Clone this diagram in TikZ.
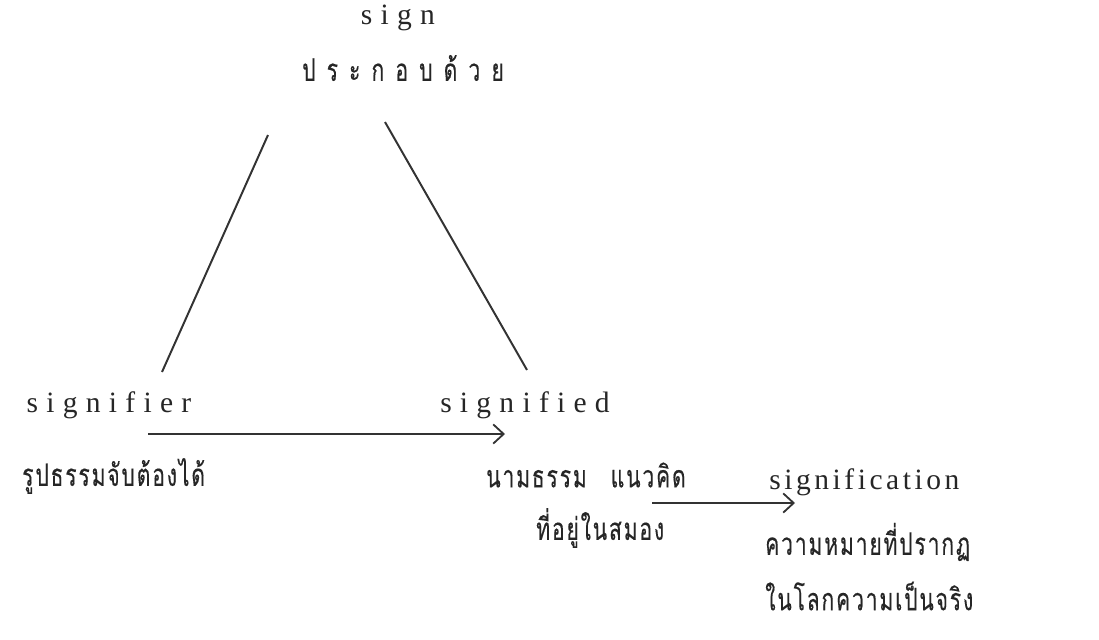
\documentclass[tikz,border=0pt]{standalone}
\usepackage{fontspec}
\usetikzlibrary{arrows.meta}
\newfontfamily\latfont[LetterSpace=28]{Liberation Serif}
\newfontfamily\latnarrow[LetterSpace=12]{Liberation Serif}
\newfontfamily\thaifont[Script=Thai,LetterSpace=6,FakeStretch=0.68,FakeBold=0.3]{Loma}
\newfontfamily\thaiwide[Script=Thai,LetterSpace=36,FakeStretch=0.68,FakeBold=0.3]{Loma}
\begin{document}
\begin{tikzpicture}[x=0.025cm, y=-0.025cm,
    every node/.style={inner sep=0pt, text=black!85},
    lat/.style={font=\latfont\fontsize{21}{24}\selectfont},
    thai/.style={font=\thaifont\fontsize{22}{26}\selectfont},
    leg/.style={draw=black!80, line width=1.4pt},
    link/.style={draw=black!80, line width=1.3pt,
      -{Straight Barb[length=2.6mm, width=4.8mm, line width=1.3pt]}}]
  \useasboundingbox (0,0) rectangle (1099,639);
  \node[lat] (sign) at (398,18) {sign};
  \node[thai, font=\thaiwide\fontsize{22}{26}\selectfont] (consist) at (403,68) {ประกอบด้วย};
  \node[lat] (signifier) at (109,405) {signifier};
  \node[lat] (signified) at (525,405) {signified};
  \node[thai, anchor=west] (concrete) at (22,476) {รูปธรรมจับต้องได้};
  \node[thai, anchor=west] (abstract) at (486,475) {นามธรรม\hspace{6mm}แนวคิด};
  \node[thai, anchor=west] (inbrain) at (536,528) {ที่อยู่ในสมอง};
  \node[lat, font=\latnarrow\fontsize{21}{24}\selectfont, anchor=west] (signification) at (769,482) {signification};
  \node[thai, anchor=west] (meaning) at (765,542) {ความหมายที่ปรากฏ};
  \node[thai, anchor=west] (reality) at (765,596) {ในโลกความเป็นจริง};
  % legs of the triangle
  \coordinate (lefttop) at (268,135);
  \coordinate (leftfoot) at (162,372);
  \coordinate (righttop) at (385,122);
  \coordinate (rightfoot) at (527,370);
  \draw[leg] (lefttop) -- (leftfoot);
  \draw[leg] (righttop) -- (rightfoot);
  % arrows
  \coordinate (a1) at (148,434);
  \coordinate (b1) at (505,434);
  \coordinate (a2) at (652,503);
  \coordinate (b2) at (795,503);
  \draw[link] (a1) -- (b1);
  \draw[link] (a2) -- (b2);
\end{tikzpicture}
\end{document}
